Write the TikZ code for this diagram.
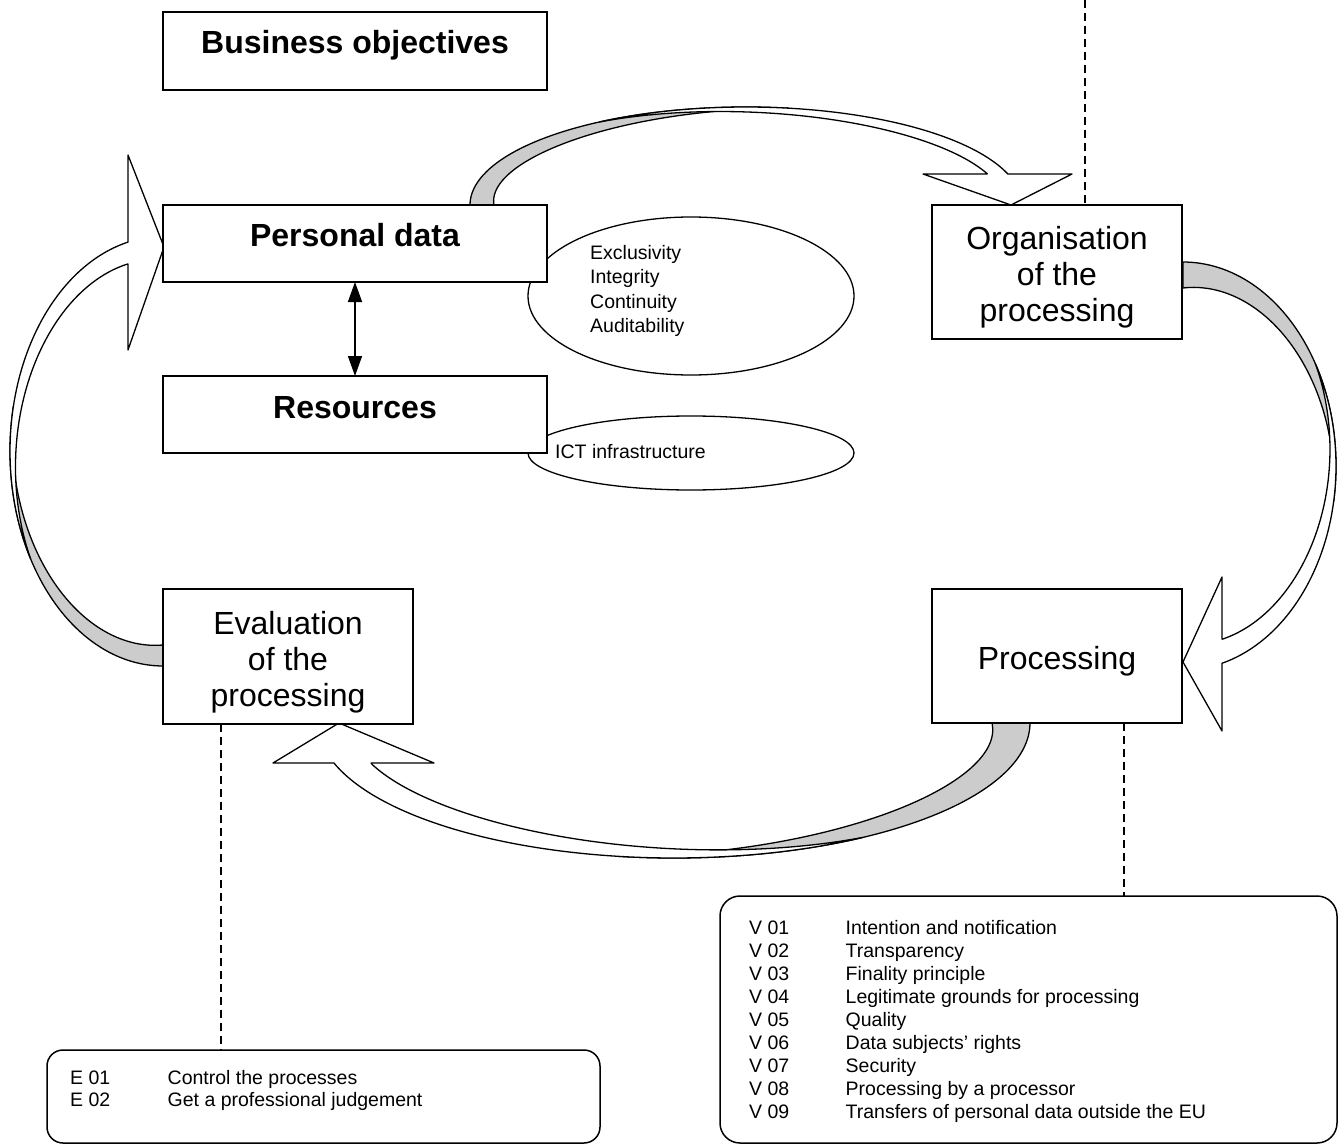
\documentclass[tikz,border=0pt]{standalone}
\usepackage{fontspec}
\setmainfont{Liberation Sans}
\usetikzlibrary{arrows.meta,shapes.geometric}
\tikzset{
  boxst/.style={draw, line width=1.8pt, fill=white, inner sep=0pt, outer sep=0pt},
  ovalst/.style={draw, ellipse, line width=1.3pt, fill=white, inner sep=0pt, outer sep=0pt},
  rboxst/.style={draw, line width=1.5pt, rounded corners=20pt, inner sep=0pt, outer sep=0pt},
  dashst/.style={line width=1.2pt, dash pattern=on 8pt off 5pt},
  ribbonst/.style={draw, line width=1.3pt, line join=round},
  frontst/.style={ribbonst, fill=white},
  backst/.style={ribbonst, fill=black!20},
  bigbold/.style={font=\fontsize{32}{36}\selectfont\bfseries, inner sep=0pt},
  bigtext/.style={font=\fontsize{32}{36}\selectfont, inner sep=0pt},
  smalltext/.style={font=\fontsize{19.5}{23.1}\selectfont, inner sep=0pt},
  ovaltext/.style={font=\fontsize{19.5}{24.6}\selectfont, inner sep=0pt},
}
\begin{document}
\begin{tikzpicture}[x=1pt, y=-1pt]
\useasboundingbox (0,0) rectangle (1342,1145);

% ellipses (behind boxes)
\node[ovalst, minimum width=326pt, minimum height=158pt] (ell1) at (691,296) {};
\node[ovalst, minimum width=326pt, minimum height=74pt] (ell2) at (691,453) {};

% ---- curved arrow A: Personal data -> Organisation
\path[backst] plot[domain=180:81, samples=60] ({746+276*cos(\x)},{205-98*sin(\x)})
  -- plot[domain=81:180, samples=60] ({746+(276-24*(\x-81)/99)*cos(\x)},{205-(98-24*(\x-81)/99)*sin(\x)}) -- cycle;
\path[frontst] plot[domain=122:18.44, samples=100] ({746+276*cos(\x)},{205-98*sin(\x)})
  -- (1072,174) -- (1011,205) -- (923,174) -- (987,174)
  -- plot[domain=22.2:122, samples=100] ({746+(276-16*(122-\x)/103.56)*cos(\x)},{205-(98-16*(122-\x)/103.56)*sin(\x)}) -- cycle;

% ---- curved arrow B: Organisation -> Processing
\path[backst] plot[domain=90:-10, samples=60] ({1183+153*cos(\x)},{466-204*sin(\x)})
  -- plot[domain=-10:90, samples=60] ({1183+(153-26*(\x+10)/100)*cos(\x)},{466-(204-26*(\x+10)/100)*sin(\x)}) -- cycle;
\path[frontst] plot[domain=30:-75.23, samples=100] ({1183+153*cos(\x)},{466-204*sin(\x)})
  -- (1222,731) -- (1183,662) -- (1222,577) -- (1222,639)
  -- plot[domain=-72.5:30, samples=100] ({1183+(153-23*(30-\x)/105.23)*cos(\x)},{466-(204-23*(30-\x)/105.23)*sin(\x)}) -- cycle;

% ---- curved arrow C: Processing -> Evaluation
\path[backst] plot[domain=0:-99, samples=60] ({674+356*cos(\x)},{723-135*sin(\x)})
  -- plot[domain=-99:0, samples=60] ({674+(356-38*(\x+99)/99)*cos(\x)},{723-(135-38*(\x+99)/99)*sin(\x)}) -- cycle;
\path[frontst] plot[domain=-58:-162.78, samples=100] ({674+356*cos(\x)},{723-135*sin(\x)})
  -- (273,763) -- (339,723) -- (434,763) -- (371.2,763)
  -- plot[domain=-157.6:-58, samples=100] ({674+(356-30*(-58-\x)/104.78)*cos(\x)},{723-(135-30*(-58-\x)/104.78)*sin(\x)}) -- cycle;

% ---- curved arrow D: Evaluation -> Personal data
\path[backst] plot[domain=-90:-192, samples=60] ({163+153*cos(\x)},{451.2-214.8*sin(\x)})
  -- plot[domain=-192:-90, samples=60] ({163+(153-21*(\x+192)/102)*cos(\x)},{451.2-(214.8-21*(\x+192)/102)*sin(\x)}) -- cycle;
\path[frontst] plot[domain=-150:-256.8, samples=100] ({163+153*cos(\x)},{451.2-214.8*sin(\x)})
  -- (128,155) -- (164,247) -- (128,350) -- (128,264)
  -- plot[domain=-254.6:-150, samples=100] ({163+(153-21*(-150-\x)/106.8)*cos(\x)},{451.2-(214.8-21*(-150-\x)/106.8)*sin(\x)}) -- cycle;

% boxes
\node[boxst, minimum width=384pt, minimum height=78pt] (biz) at (355,51) {};
\node[boxst, minimum width=384pt, minimum height=77pt] (pd) at (355,243.5) {};
\node[boxst, minimum width=384pt, minimum height=77pt] (res) at (355,414.5) {};
\node[boxst, minimum width=250pt, minimum height=134pt] (org) at (1057,272) {};
\node[boxst, minimum width=250pt, minimum height=134pt] (proc) at (1057,656) {};
\node[boxst, minimum width=250pt, minimum height=135pt] (eval) at (288,656.5) {};

% box texts (base = baseline of last line)
\node[bigbold, anchor=base] (bizt) at (355,53.5) {Business objectives};
\node[bigbold, anchor=base] (pdt) at (355,246.5) {Personal data};
\node[bigbold, anchor=base] (rest) at (355,418.5) {Resources};
\node[bigtext, align=center, anchor=base] (orgt) at (1057,321) {Organisation\\of the\\processing};
\node[bigtext, anchor=base] (proct) at (1057,669.5) {Processing};
\node[bigtext, align=center, anchor=base] (evalt) at (288,706.5) {Evaluation\\of the\\processing};

% ellipse texts
\node[ovaltext, align=left, anchor=base west] (ell1t) at (590,332.8) {Exclusivity\\Integrity\\Continuity\\Auditability};
\node[ovaltext, anchor=base west] (ell2t) at (555,458) {ICT infrastructure};

% double arrow
\draw[line width=1.5pt, {Triangle[width=14pt,length=20pt]}-{Triangle[width=14pt,length=20pt]}] (pd.south) -- (res.north);

% rounded lists
\node[rboxst, minimum width=617pt, minimum height=247pt] (vbox) at (1028.5,1019.5) {};
\node[rboxst, minimum width=553pt, minimum height=93pt, rounded corners=16pt] (ebox) at (323.5,1096.5) {};

\foreach \t [count=\i] in {Intention and notification, Transparency, Finality principle, Legitimate grounds for processing, Quality, Data subjects’ rights, Security, Processing by a processor, Transfers of personal data outside the EU}{
  \node[smalltext, anchor=base west] (vc\i) at (749,{934+23.1*(\i-1)}) {V 0\i};
  \node[smalltext, anchor=base west] (vt\i) at (845.5,{934+23.1*(\i-1)}) {\t};
}
\foreach \t [count=\i] in {Control the processes, Get a professional judgement}{
  \node[smalltext, anchor=base west] (ec\i) at (70,{1084+22.5*(\i-1)}) {E 0\i};
  \node[smalltext, anchor=base west] (et\i) at (167.5,{1084+22.5*(\i-1)}) {\t};
}

% dashed connectors
\coordinate (topend) at (1085,0);
\coordinate (pdash) at (1124,0);
\coordinate (edash) at (221,0);
\draw[dashst] (topend) -- (topend |- org.north);
\draw[dashst] (proc.south -| pdash) -- (vbox.north -| pdash);
\draw[dashst] (eval.south -| edash) -- (ebox.north -| edash);
\end{tikzpicture}
\end{document}
